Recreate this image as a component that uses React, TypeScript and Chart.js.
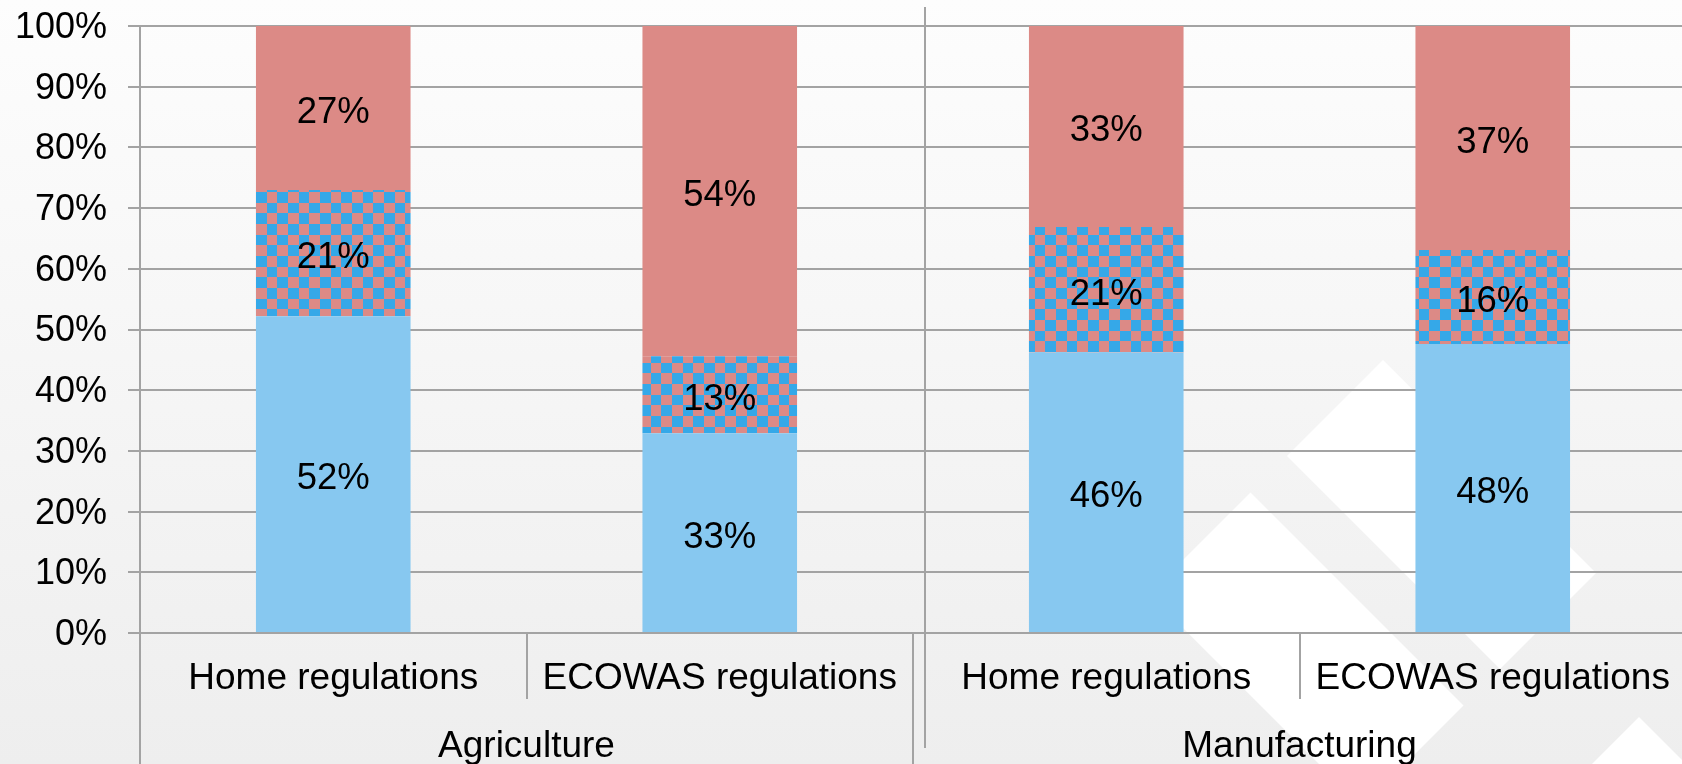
import React, { useEffect, useRef } from 'react';
import { Chart, registerables } from 'chart.js';

Chart.register(...registerables);

// ---- Data ----
const categories = ['Home regulations', 'ECOWAS regulations', 'Home regulations', 'ECOWAS regulations'];
const groups = ['Agriculture', 'Manufacturing'];
const groupSizes = [2, 2];
const seriesNames = ['Series 1', 'Series 2', 'Series 3'];
const solidBlueValues = [52.2, 32.9, 46.2, 47.6];
const checkeredValues = [20.8, 12.7, 20.7, 15.5];
const solidRedValues = [27.0, 54.4, 33.1, 36.9];
const yMin = 0;
const yMax = 100;
const yStep = 10;

// ---- Styles ----
const FONT = "'Liberation Sans', Arial, sans-serif";
const BLUE = '#87c8f0';
const RED = '#dc8a86';
const CHECK_BLUE = '#35a8e8';
const LINE = '#a3a3a3';
const TEXT = '#000000';
const CANVAS_W = 1690;
const CANVAS_H = 764;

function makeChecker(ctx: CanvasRenderingContext2D): CanvasPattern | string {
  const c = document.createElement('canvas');
  c.width = 64;
  c.height = 64;
  const g = c.getContext('2d');
  if (!g) return RED;
  g.fillStyle = RED;
  g.fillRect(0, 0, 64, 64);
  g.fillStyle = CHECK_BLUE;
  const s = 64 / 6;
  for (let i = 0; i < 6; i++) {
    for (let j = 0; j < 6; j++) {
      if ((i + j) % 2 === 0) {
        const x0 = Math.round(i * s);
        const y0 = Math.round(j * s);
        g.fillRect(x0, y0, Math.round((i + 1) * s) - x0, Math.round((j + 1) * s) - y0);
      }
    }
  }
  return ctx.createPattern(c, 'repeat') || RED;
}

function uvRect(ctx: CanvasRenderingContext2D, u0: number, u1: number, v0: number, v1: number) {
  const pts = [
    [u0, v0],
    [u1, v0],
    [u1, v1],
    [u0, v1],
  ].map(([u, v]) => [(u - v) / 2, (u + v) / 2]);
  ctx.beginPath();
  ctx.moveTo(pts[0][0], pts[0][1]);
  for (let i = 1; i < pts.length; i++) ctx.lineTo(pts[i][0], pts[i][1]);
  ctx.closePath();
  ctx.fill();
}

const backgroundPlugin = {
  id: 'bgDecor',
  beforeDraw(chart: any) {
    const ctx: CanvasRenderingContext2D = chart.ctx;
    const w = chart.width;
    const h = chart.height;
    ctx.save();
    const grad = ctx.createLinearGradient(0, 0, 0, h);
    grad.addColorStop(0, '#fdfdfd');
    grad.addColorStop(1, '#eeeeee');
    ctx.fillStyle = grad;
    ctx.fillRect(0, 0, w, h);
    ctx.fillStyle = '#ffffff';
    uvRect(ctx, 1743, 2169, -1023, -831);
    uvRect(ctx, 1743, 2169, -758, -555);
    uvRect(ctx, 2356, 4000, -922, 2000);
    ctx.restore();
  },
};

const valueLabelPlugin = {
  id: 'valueLabels',
  afterDatasetsDraw(chart: any) {
    const ctx: CanvasRenderingContext2D = chart.ctx;
    ctx.save();
    ctx.font = `36.5px ${FONT}`;
    ctx.fillStyle = TEXT;
    ctx.textAlign = 'center';
    ctx.textBaseline = 'alphabetic';
    chart.data.datasets.forEach((ds: any, di: number) => {
      const meta = chart.getDatasetMeta(di);
      meta.data.forEach((el: any, i: number) => {
        const p = el.getProps(['x', 'y', 'base'], true);
        const v = ds.data[i] as number;
        ctx.fillText(`${Math.round(v)}%`, p.x, (p.y + p.base) / 2 + 15);
      });
    });
    ctx.restore();
  },
};

const categoryAxisPlugin = {
  id: 'multiLevelAxis',
  afterDraw(chart: any) {
    const ctx: CanvasRenderingContext2D = chart.ctx;
    const xs = chart.scales.x;
    const area = chart.chartArea;
    const h = chart.height;
    const half = (xs.getPixelForValue(1) - xs.getPixelForValue(0)) / 2;
    ctx.save();
    ctx.strokeStyle = LINE;
    ctx.lineWidth = 2;
    const vline = (x: number, y0: number, y1: number) => {
      ctx.beginPath();
      ctx.moveTo(Math.round(x), y0);
      ctx.lineTo(Math.round(x), y1);
      ctx.stroke();
    };
    vline(area.left, area.bottom, h);
    const groupEnds: number[] = [];
    let acc = 0;
    groupSizes.forEach((n) => {
      acc += n;
      groupEnds.push(acc - 1);
    });
    for (let i = 0; i < categories.length - 1; i++) {
      const x = xs.getPixelForValue(i) + half;
      if (groupEnds.includes(i)) {
        vline(x, area.bottom, h);
        vline(x + 12, 7, area.bottom + 115);
      } else {
        vline(x, area.bottom, area.bottom + 66);
      }
    }
    ctx.fillStyle = TEXT;
    ctx.font = `37px ${FONT}`;
    ctx.textAlign = 'center';
    ctx.textBaseline = 'alphabetic';
    categories.forEach((c, i) => {
      ctx.fillText(c, xs.getPixelForValue(i), area.bottom + 56);
    });
    let start = 0;
    groups.forEach((g, gi) => {
      const n = groupSizes[gi];
      const x0 = xs.getPixelForValue(start) - half;
      const x1 = xs.getPixelForValue(start + n - 1) + half;
      ctx.fillText(g, (x0 + x1) / 2, area.bottom + 124);
      start += n;
    });
    ctx.restore();
  },
};

export default function App() {
  const ref = useRef<HTMLCanvasElement | null>(null);

  useEffect(() => {
    const canvas = ref.current;
    if (!canvas) return;
    const ctx = canvas.getContext('2d');
    if (!ctx) return;
    const checker = makeChecker(ctx);
    const chart = new Chart(ctx, {
      type: 'bar',
      data: {
        labels: categories,
        datasets: [
          { label: seriesNames[0], data: solidBlueValues, backgroundColor: BLUE },
          { label: seriesNames[1], data: checkeredValues, backgroundColor: checker as any },
          { label: seriesNames[2], data: solidRedValues, backgroundColor: RED },
        ],
      },
      options: {
        responsive: false,
        animation: false,
        events: [],
        layout: { padding: { left: 0, top: 26, right: 4, bottom: 131 } },
        datasets: {
          bar: { categoryPercentage: 1, barPercentage: 0.4, borderWidth: 0 },
        },
        plugins: {
          legend: { display: false },
          tooltip: { enabled: false },
        },
        scales: {
          x: { display: false, stacked: true },
          y: {
            stacked: true,
            min: yMin,
            max: yMax,
            ticks: {
              stepSize: yStep,
              padding: 21,
              labelOffset: 2,
              color: TEXT,
              font: { size: 36, family: FONT },
              callback: (v: any) => `${v}%`,
            },
            grid: { color: LINE, lineWidth: 2, tickLength: 12 },
            border: { color: LINE, width: 2 },
            afterFit: (s: any) => {
              s.width = 140;
              s.paddingTop = 0;
            },
          },
        },
      },
      plugins: [backgroundPlugin, valueLabelPlugin, categoryAxisPlugin],
    } as any);
    return () => chart.destroy();
  }, []);

  return (
    <div style={{ position: 'fixed', left: 0, top: 0, width: '100vw', height: '100vh', overflow: 'hidden' }}>
      <canvas
        ref={ref}
        width={CANVAS_W}
        height={CANVAS_H}
        style={{ display: 'block', width: `${CANVAS_W}px`, height: `${CANVAS_H}px` }}
      />
    </div>
  );
}
